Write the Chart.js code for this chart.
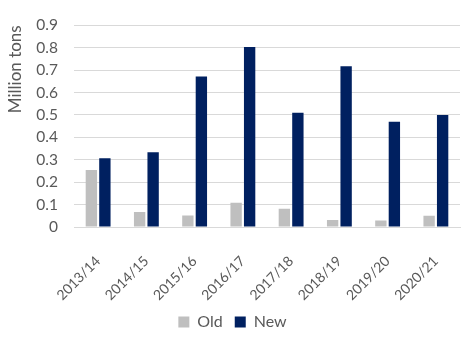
<!DOCTYPE html>
<html>
<head>
<meta charset="utf-8">
<script src="https://cdn.jsdelivr.net/npm/chart.js@4"></script>
<style>
  html, body { margin: 0; padding: 0; background: #fff; }
  #wrap { width: 474px; height: 342px; }
</style>
</head>
<body>
<div id="wrap"><canvas id="chart"></canvas></div>
<script>
const seasons = ['2013/14', '2014/15', '2015/16', '2016/17', '2017/18', '2018/19', '2019/20', '2020/21'];
const oldValues = [0.254, 0.067, 0.051, 0.108, 0.081, 0.031, 0.029, 0.050];
const newValues = [0.307, 0.333, 0.671, 0.803, 0.510, 0.717, 0.470, 0.500];
const yTicks = [0, 0.1, 0.2, 0.3, 0.4, 0.5, 0.6, 0.7, 0.8, 0.9];

const textColor = '#595959';
const fontFamily = 'Lato, "Open Sans", sans-serif';

new Chart(document.getElementById('chart'), {
  type: 'bar',
  data: {
    labels: seasons,
    datasets: [
      { label: 'Old', data: oldValues, backgroundColor: '#bfbfbf', categoryPercentage: 0.56, barPercentage: 0.84 },
      { label: 'New', data: newValues, backgroundColor: '#002060', categoryPercentage: 0.56, barPercentage: 0.84 }
    ]
  },
  options: {
    responsive: true,
    maintainAspectRatio: false,
    animation: false,
    layout: { padding: { top: 10, right: 14, left: 5, bottom: 2 } },
    scales: {
      y: {
        min: 0,
        max: 0.9,
        afterBuildTicks: (scale) => { scale.ticks = yTicks.map(v => ({ value: v })); },
        afterFit: (scale) => { scale.width = 69; },
        border: { display: false },
        grid: { color: '#d9d9d9', drawTicks: false },
        ticks: {
          color: textColor,
          padding: 16,
          autoSkip: false,
          font: { family: fontFamily, size: 15.5 },
          callback: (v) => v === 0 ? '0' : v.toFixed(1)
        },
        title: { display: true, text: 'Million tons', align: 'end', color: textColor, font: { family: fontFamily, size: 17 }, padding: 0 }
      },
      x: {
        afterFit: (scale) => { scale.height = 75; },
        border: { display: true, color: '#d9d9d9' },
        grid: { display: false },
        ticks: {
          color: textColor,
          padding: 18,
          autoSkip: false,
          maxRotation: 45,
          minRotation: 45,
          font: { family: fontFamily, size: 14 }
        }
      }
    },
    plugins: {
      legend: {
        position: 'bottom',
        labels: {
          color: textColor,
          boxWidth: 11,
          boxHeight: 11,
          padding: 12,
          font: { family: fontFamily, size: 16 }
        }
      },
      tooltip: { enabled: false }
    }
  }
});
</script>
</body>
</html>
